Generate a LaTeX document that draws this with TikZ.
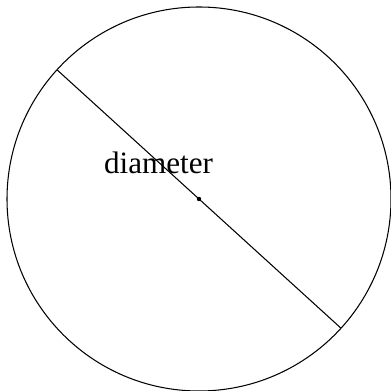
\documentclass[tikz,border=0pt]{standalone}
\usepackage{fontspec}
\setmainfont{Liberation Serif}
\usetikzlibrary{calc}
\begin{document}
\begin{tikzpicture}[x=0.02cm, y=0.02cm, line width=0.6pt]
        \useasboundingbox (0,0) rectangle (391,391);
        % 圆心
        \coordinate (O) at (199,192);
        % 圆
        \draw (O) circle (192);
        % 直径的两个端点
        \coordinate (A) at ($(O)+(137.7:192)$);
        \coordinate (B) at ($(O)+(-42.3:192)$);
        % 直径
        \draw (A) -- (B);
        % 圆心点
        \fill (O) circle (2.2);
        % 标注
        \node[anchor=base, inner sep=0pt, font=\fontsize{17.7}{20}\selectfont] (lbl) at (158.5,217) {diameter};
    \end{tikzpicture}
\end{document}
